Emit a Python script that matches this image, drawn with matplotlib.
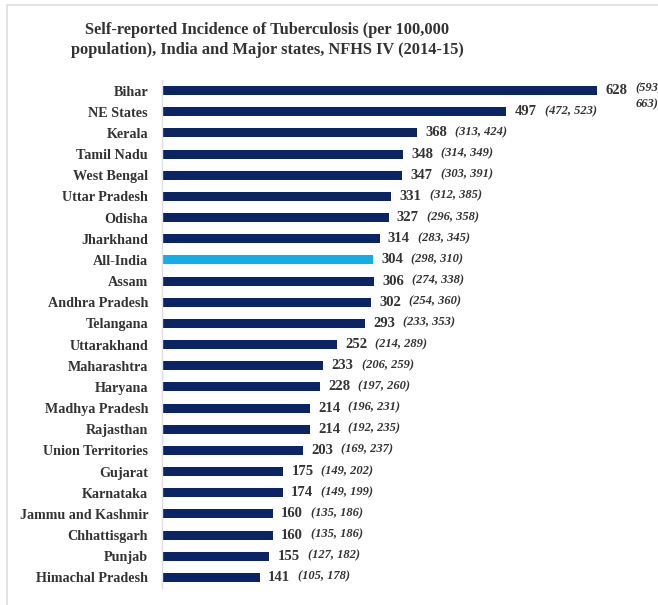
import matplotlib.pyplot as plt
from matplotlib.patches import Rectangle

# Self-reported TB incidence per 100,000, NFHS IV (2014-15)
states = ["Bihar", "NE States", "Kerala", "Tamil Nadu", "West Bengal",
          "Uttar Pradesh", "Odisha", "Jharkhand", "All-India", "Assam",
          "Andhra Pradesh", "Telangana", "Uttarakhand", "Maharashtra",
          "Haryana", "Madhya Pradesh", "Rajasthan", "Union Territories",
          "Gujarat", "Karnataka", "Jammu and Kashmir", "Chhattisgarh",
          "Punjab", "Himachal Pradesh"]
values = [628, 497, 368, 348, 347, 331, 327, 314, 304, 306, 302, 293,
          252, 233, 228, 214, 214, 203, 175, 174, 160, 160, 155, 141]
ci_low = [593, 472, 313, 314, 303, 312, 296, 283, 298, 274, 254, 233,
          214, 206, 197, 196, 192, 169, 149, 149, 135, 135, 127, 105]
ci_high = [663, 523, 424, 349, 391, 385, 358, 345, 310, 338, 360, 353,
           289, 259, 260, 231, 235, 237, 202, 199, 186, 186, 182, 178]

navy = "#0b2466"
sky = "#12aee8"
text_col = "#333333"
serif = "Liberation Serif"

fig = plt.figure(figsize=(6.58, 6.05), dpi=100)

# light grey frame around the chart area
fig.patches.append(Rectangle((7 / 658, -0.1), 1.0, 1 - 5 / 605 + 0.1,
                             transform=fig.transFigure, fill=False,
                             edgecolor="#dedede", linewidth=1.2))

ax = fig.add_axes([162 / 658, 17 / 605, 485 / 658, 508 / 605])

ypos = list(range(len(states)))
colors = [sky if s == "All-India" else navy for s in states]
ax.barh(ypos, values, height=0.43, color=colors)

ax.set_xlim(0, 700)
ax.set_ylim(len(states) - 0.5, -0.5)
ax.set_yticks(ypos)
ax.set_yticklabels(states, fontfamily=serif, fontweight="bold",
                   fontsize=10.2, color=text_col)
ax.tick_params(axis="y", length=0, pad=10)
ax.set_xticks([])

for side in ["top", "right", "bottom"]:
    ax.spines[side].set_visible(False)
ax.spines["left"].set_color("#e0e0e0")
ax.spines["left"].set_linewidth(1.0)

for i, (v, lo, hi) in enumerate(zip(values, ci_low, ci_high)):
    ax.annotate(str(v), (v, i), xytext=(6, 0), textcoords="offset points",
                ha="left", va="center", fontfamily=serif, fontweight="bold",
                fontsize=10.5, color=text_col)
    if v == max(values):
        # the widest interval wraps onto a second line in the original
        ax.annotate(f"({lo},\n{hi})", (v, i), xytext=(27.5, 6),
                    textcoords="offset points", ha="left", va="top",
                    multialignment="left", fontfamily=serif,
                    fontweight="bold", fontstyle="italic", fontsize=9,
                    color=text_col, linespacing=1.5)
    else:
        ax.annotate(f"({lo}, {hi})", (v, i), xytext=(27.5, 0.5),
                    textcoords="offset points", ha="left", va="center",
                    fontfamily=serif, fontweight="bold", fontstyle="italic",
                    fontsize=9, color=text_col)

fig.text(267 / 658, 1 - 40 / 605,
         "Self-reported Incidence of Tuberculosis (per 100,000\n"
         "population), India and Major states, NFHS IV (2014-15)",
         ha="center", va="center", fontfamily=serif, fontweight="bold",
         fontsize=11.8, color=text_col, linespacing=1.35)

fig.savefig("out.png", dpi=100)
